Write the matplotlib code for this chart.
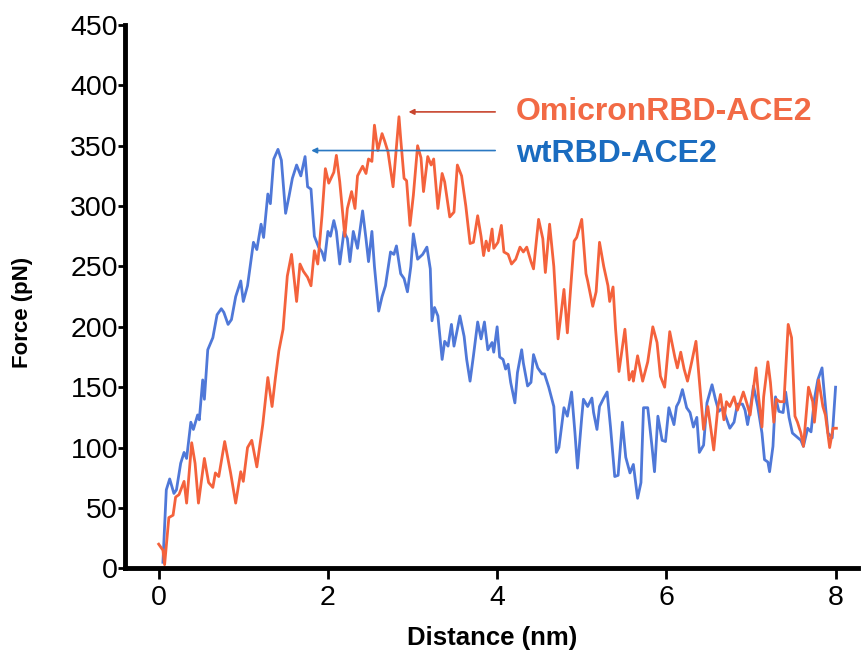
import matplotlib
matplotlib.use('Agg')
import matplotlib.pyplot as plt

plt.rcParams['font.family'] = ['Liberation Sans', 'DejaVu Sans']

# wtRBD-ACE2 trace (distance in nm, force in pN)
wt_x = [0.05, 0.09, 0.13, 0.18, 0.21, 0.26, 0.30, 0.33, 0.38, 0.41, 0.46, 0.48, 0.52, 0.54, 0.58,
        0.64, 0.69, 0.74, 0.77, 0.82, 0.86, 0.91, 0.97, 1.00, 1.05, 1.12, 1.16, 1.21, 1.24, 1.29,
        1.32, 1.36, 1.41, 1.45, 1.50, 1.54, 1.58, 1.63, 1.68, 1.73, 1.76, 1.80, 1.84, 1.89, 1.93,
        1.96, 2.00, 2.03, 2.07, 2.10, 2.14, 2.19, 2.23, 2.26, 2.30, 2.35, 2.41, 2.45, 2.48, 2.52,
        2.55, 2.60, 2.64, 2.68, 2.74, 2.78, 2.81, 2.86, 2.90, 2.94, 2.98, 3.01, 3.06, 3.12, 3.17,
        3.21, 3.23, 3.26, 3.30, 3.35, 3.38, 3.42, 3.46, 3.49, 3.53, 3.56, 3.61, 3.64, 3.68, 3.72,
        3.77, 3.81, 3.85, 3.89, 3.94, 3.96, 4.00, 4.03, 4.07, 4.10, 4.13, 4.16, 4.21, 4.24, 4.29,
        4.31, 4.36, 4.40, 4.43, 4.48, 4.53, 4.56, 4.61, 4.67, 4.70, 4.73, 4.79, 4.83, 4.88, 4.92,
        4.95, 5.00, 5.02, 5.07, 5.12, 5.14, 5.18, 5.21, 5.26, 5.30, 5.34, 5.39, 5.43, 5.48, 5.52,
        5.57, 5.61, 5.66, 5.70, 5.73, 5.78, 5.83, 5.86, 5.90, 5.95, 5.99, 6.03, 6.09, 6.12, 6.15,
        6.19, 6.24, 6.28, 6.32, 6.36, 6.39, 6.44, 6.48, 6.54, 6.58, 6.62, 6.67, 6.70, 6.75, 6.80,
        6.84, 6.90, 6.93, 6.96, 6.99, 7.03, 7.08, 7.13, 7.16, 7.20, 7.22, 7.26, 7.29, 7.33, 7.38,
        7.41, 7.45, 7.49, 7.54, 7.59, 7.62, 7.67, 7.71, 7.75, 7.79, 7.84, 7.86, 7.91, 7.96, 8.00]
wt_f = [5, 65, 74, 62, 65, 87, 96, 91, 121, 115, 127, 123, 156, 140, 181,
        191, 210, 215, 212, 202, 206, 225, 238, 221, 234, 270, 264, 285, 274, 310,
        302, 339, 347, 338, 294, 308, 323, 334, 325, 341, 316, 314, 275, 266, 262,
        255, 279, 275, 288, 279, 252, 279, 273, 254, 279, 265, 296, 273, 254, 279,
        250, 213, 225, 234, 262, 260, 267, 244, 240, 229, 250, 277, 256, 260, 266,
        248, 205, 216, 209, 173, 188, 184, 202, 184, 198, 209, 192, 173, 155, 176,
        204, 190, 204, 181, 187, 179, 200, 175, 173, 165, 169, 154, 137, 162, 181,
        170, 151, 154, 177, 166, 161, 161, 150, 134, 96, 100, 133, 126, 146, 112,
        83, 125, 140, 134, 141, 129, 115, 134, 141, 146, 117, 76, 77, 121, 92,
        79, 86, 58, 71, 133, 133, 101, 80, 126, 106, 105, 133, 119, 134, 138,
        148, 133, 129, 117, 125, 96, 102, 137, 152, 140, 130, 133, 126, 116, 121,
        136, 136, 131, 119, 131, 151, 134, 112, 90, 88, 80, 101, 142, 130, 129,
        146, 125, 112, 109, 106, 101, 116, 113, 140, 156, 166, 150, 112, 108, 150]

# OmicronRBD-ACE2 trace
om_x = [0.00, 0.05, 0.07, 0.12, 0.17, 0.20, 0.24, 0.30, 0.33, 0.39, 0.43, 0.47, 0.54, 0.59, 0.64,
        0.67, 0.71, 0.78, 0.85, 0.91, 0.97, 1.00, 1.05, 1.10, 1.16, 1.23, 1.29, 1.34, 1.38, 1.42,
        1.47, 1.52, 1.57, 1.63, 1.67, 1.71, 1.76, 1.80, 1.84, 1.88, 1.93, 1.97, 2.01, 2.07, 2.10,
        2.14, 2.20, 2.23, 2.28, 2.32, 2.35, 2.41, 2.45, 2.48, 2.52, 2.55, 2.59, 2.64, 2.67, 2.71,
        2.77, 2.80, 2.84, 2.86, 2.90, 2.93, 2.97, 3.01, 3.06, 3.10, 3.13, 3.18, 3.22, 3.25, 3.30,
        3.35, 3.38, 3.44, 3.49, 3.53, 3.58, 3.63, 3.68, 3.72, 3.77, 3.81, 3.84, 3.87, 3.90, 3.94,
        3.96, 4.01, 4.05, 4.08, 4.13, 4.17, 4.22, 4.27, 4.31, 4.35, 4.40, 4.43, 4.49, 4.54, 4.57,
        4.62, 4.67, 4.72, 4.79, 4.83, 4.91, 4.94, 5.00, 5.05, 5.07, 5.13, 5.17, 5.21, 5.26, 5.31,
        5.33, 5.37, 5.40, 5.44, 5.51, 5.56, 5.60, 5.61, 5.66, 5.72, 5.78, 5.84, 5.89, 5.93, 5.98,
        6.04, 6.10, 6.13, 6.17, 6.21, 6.25, 6.30, 6.35, 6.39, 6.44, 6.49, 6.56, 6.61, 6.64, 6.68,
        6.71, 6.75, 6.80, 6.84, 6.91, 6.95, 6.99, 7.06, 7.09, 7.13, 7.15, 7.20, 7.23, 7.27, 7.30,
        7.34, 7.39, 7.44, 7.48, 7.52, 7.55, 7.59, 7.62, 7.66, 7.68, 7.73, 7.75, 7.80, 7.85, 7.88,
        7.93, 7.97, 8.01]
om_f = [20, 15, 3, 42, 44, 59, 61, 72, 54, 104, 87, 54, 91, 71, 67,
        79, 76, 105, 79, 54, 80, 72, 100, 106, 84, 119, 158, 134, 158, 180,
        198, 242, 260, 221, 252, 246, 241, 234, 263, 252, 292, 331, 319, 328, 342,
        320, 275, 298, 312, 298, 325, 333, 327, 339, 337, 367, 346, 360, 354, 345,
        316, 341, 374, 356, 323, 321, 284, 309, 350, 340, 312, 341, 334, 339, 298,
        327, 320, 291, 295, 334, 325, 300, 269, 270, 292, 275, 259, 271, 263, 281,
        265, 270, 284, 262, 260, 252, 256, 266, 262, 266, 254, 248, 289, 273, 245,
        285, 250, 190, 231, 195, 271, 274, 289, 244, 238, 217, 229, 270, 250, 234,
        221, 233, 198, 163, 198, 156, 163, 155, 176, 155, 171, 200, 187, 159, 150,
        196, 175, 166, 179, 165, 155, 171, 188, 156, 115, 134, 98, 134, 144, 123,
        138, 134, 142, 131, 146, 137, 127, 166, 142, 117, 142, 171, 154, 121, 140,
        138, 138, 202, 191, 126, 121, 112, 101, 134, 150, 138, 121, 156, 134, 127,
        100, 116, 116]

fig = plt.figure(figsize=(8.61, 6.57), dpi=100)
ax = fig.add_axes([0.145, 0.135, 0.852, 0.827])

ax.plot(wt_x, wt_f, color='#4F78D8', lw=2.0, solid_joinstyle='round')
ax.plot(om_x, om_f, color='#F4623C', lw=2.0, solid_joinstyle='round')

ax.set_xlim(-0.4, 8.27)
ax.set_ylim(0, 450)
ax.set_xticks([0, 2, 4, 6, 8])
ax.set_yticks(range(0, 451, 50))
ax.tick_params(labelsize=20.5, width=2)
ax.tick_params(axis='x', length=8, pad=4)
ax.tick_params(axis='y', length=5, pad=0)
for s in ['top', 'right']:
    ax.spines[s].set_visible(False)
for s in ['left', 'bottom']:
    ax.spines[s].set_linewidth(3.5)

ax.set_xlabel('Distance (nm)', fontsize=18.5, fontweight='bold', labelpad=11)
ax.set_ylabel('Force (pN)', fontsize=16, fontweight='bold')
ax.yaxis.set_label_coords(-0.125, 0.47)

# arrows + labels
ax.annotate('', xy=(2.92, 378), xytext=(4.01, 378),
            arrowprops=dict(arrowstyle='-|>', color='#C8452E', lw=1.2, mutation_scale=8))
ax.annotate('', xy=(1.77, 346), xytext=(4.01, 346),
            arrowprops=dict(arrowstyle='-|>', color='#2A78C2', lw=1.2, mutation_scale=8))
ax.text(4.22, 378, 'OmicronRBD-ACE2', color='#F26A45', fontsize=23, fontweight='bold', va='center')
ax.text(4.22, 343, 'wtRBD-ACE2', color='#1A6CC0', fontsize=23, fontweight='bold', va='center')

fig.savefig('out.png', dpi=100)
